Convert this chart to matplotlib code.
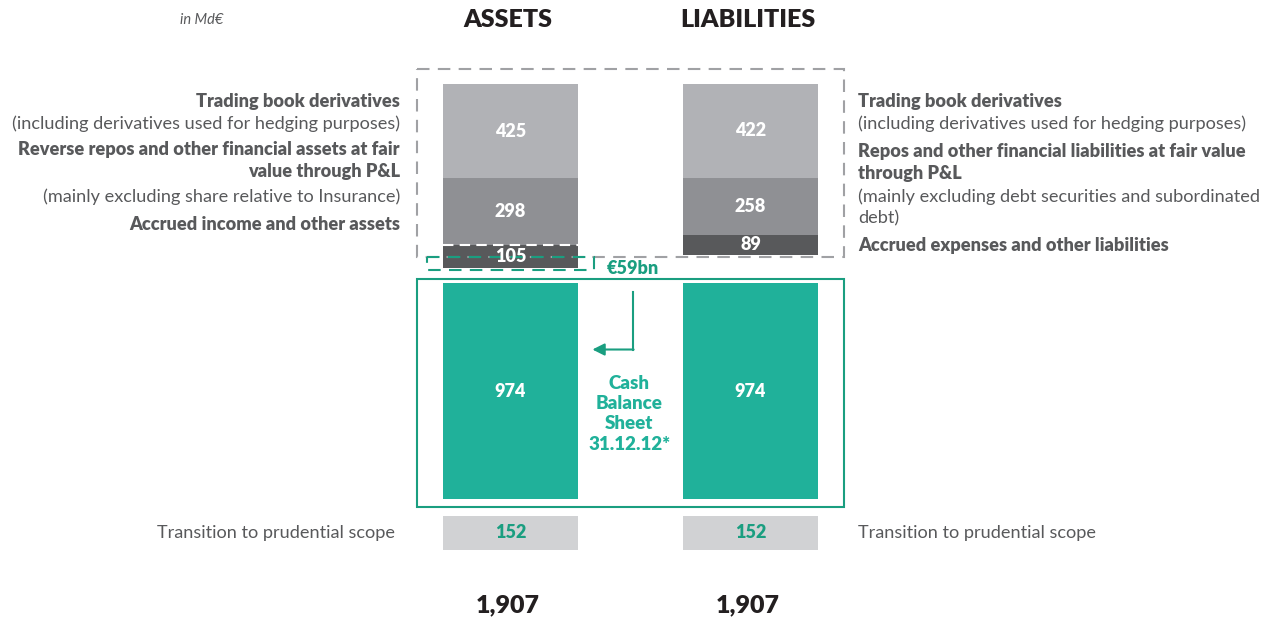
import matplotlib
matplotlib.use('Agg')
import matplotlib.pyplot as plt
from matplotlib.patches import Rectangle

# values in Md€
categories = ['ASSETS', 'LIABILITIES']
derivatives = [425, 422]
repos = [298, 258]
accrued = [105, 89]
cash = [974, 974]
prudential = [152, 152]
totals = [1907, 1907]

left_labels = [
    ('Trading book derivatives', 'bold'),
    ('(including derivatives used for hedging purposes)', 'normal'),
    ('Reverse repos and other financial assets at fair', 'bold'),
    ('value through P&L', 'bold'),
    ('(mainly excluding share relative to Insurance)', 'normal'),
    ('Accrued income and other assets', 'bold'),
]
right_labels = [
    ('Trading book derivatives', 'bold'),
    ('(including derivatives used for hedging purposes)', 'normal'),
    ('Repos and other financial liabilities at fair value', 'bold'),
    ('through P&L', 'bold'),
    ('(mainly excluding debt securities and subordinated', 'normal'),
    ('debt)', 'normal'),
    ('Accrued expenses and other liabilities', 'bold'),
]

LIGHT = '#b1b2b6'
MID = '#8f9094'
DARK = '#58595b'
TEAL = '#20b19a'
GREEN = '#1a9e80'
PALE = '#d1d2d4'
TXT = '#58595b'
FONT = 'Lato'

W, H = 1274, 620
fig = plt.figure(figsize=(W / 100, H / 100), dpi=100)
ax = fig.add_axes([0, 0, 1, 1])
ax.set_xlim(-510.5 / 240, (W - 510.5) / 240)
ax.set_ylim((H - 84) / 0.222, -84 / 0.222)
ax.axis('off')


def px(x, y):
    return x / W, 1 - y / H


x = [0, 1]
bw = 135 / 240
top_sum = [a + b + c for a, b, c in zip(derivatives, repos, accrued)]
diff = top_sum[0] - top_sum[1]
cash_start = max(top_sum) + 68
prud_start = cash_start + max(cash) + 76

# stacked non-cash part
b1 = ax.bar(x, derivatives, bw, bottom=0, color=LIGHT)
b2 = ax.bar(x, repos, bw, bottom=derivatives, color=MID)
bot3 = [a + b for a, b in zip(derivatives, repos)]
b3 = ax.bar(x, accrued, bw, bottom=bot3, color=DARK)
b4 = ax.bar(x, cash, bw, bottom=cash_start, color=TEAL)
b5 = ax.bar(x, prudential, bw, bottom=prud_start, color=PALE)

for bars, vals in [(b1, derivatives), (b2, repos), (b3, accrued), (b4, cash)]:
    for r, v in zip(bars, vals):
        ax.text(r.get_x() + bw / 2, r.get_y() + r.get_height() / 2, str(v),
                ha='center', va='center', color='white', fontsize=13,
                fontweight='heavy', family=FONT)
for r, v in zip(b5, prudential):
    ax.text(r.get_x() + bw / 2, r.get_y() + r.get_height() / 2, str(v),
            ha='center', va='center', color=GREEN, fontsize=13,
            fontweight='heavy', family=FONT)

# white dashed separator over assets accrued segment
ax.plot([-bw / 2, bw / 2], [bot3[0], bot3[0]], color='white', lw=1.5,
        ls=(0, (5, 3)))

# grey dashed box around non-cash items
padx = 26 / 240
ax.add_patch(Rectangle((-bw / 2 - padx, -68), 1 + bw + 2 * padx, top_sum[1] + 10 + 68,
                       fill=False, ec='#a0a1a4', lw=1.5, ls=(0, (6, 4))))
# green dashed box for the €59bn difference
gx = 16 / 240
ax.add_patch(Rectangle((-bw / 2 - gx, top_sum[1] + 10), bw + 2 * gx, diff,
                       fill=False, ec=GREEN, lw=1.5, ls=(0, (6, 4))))
# green solid box around cash balance sheet
ax.add_patch(Rectangle((-bw / 2 - padx, cash_start - 18), 1 + bw + 2 * padx,
                       max(cash) + 18 + 36, fill=False, ec=GREEN, lw=1.5))

ax.text(0.5 - 0.10, top_sum[0] + 2, '\u20ac%dbn' % diff, ha='left', va='center',
        color=GREEN, fontsize=13, fontweight='heavy', family=FONT)

# arrow
ax.plot([0.51, 0.51], [cash_start + 40, cash_start + 300], color=GREEN, lw=1.5)
ax.annotate('', xy=(bw / 2 + 0.06, cash_start + 300),
            xytext=(0.51 + 0.003, cash_start + 300),
            arrowprops=dict(arrowstyle='-|>', color=GREEN, lw=1.5,
                            mutation_scale=18, shrinkA=0, shrinkB=0))
ax.text(0.5 - 0.005, cash_start + 590, 'Cash\nBalance\nSheet\n31.12.12*',
        ha='center', va='center', color=TEAL, fontsize=13.5, fontweight='heavy',
        family=FONT, linespacing=1.22)

# headings and totals
for xi, c, t in zip(x, categories, totals):
    ax.text(xi - 0.01, -290, c, ha='center', va='center', fontsize=18,
            fontweight='heavy', family=FONT, color='#231f20')
    ax.text(xi - 0.01, prud_start + max(prudential) + 250, '{:,}'.format(t),
            ha='center', va='center', fontsize=18, fontweight='heavy',
            family=FONT, color='#231f20')

fig.text(*px(202, 20), 'in Md\u20ac', ha='center', va='center', fontsize=10.5,
         style='italic', color=TXT, family=FONT)

ly = [102, 124, 150, 171, 197, 225]
for (s, w), yy in zip(left_labels, ly):
    fig.text(*px(400, yy), s, ha='right', va='center', fontsize=13.1,
             fontweight='heavy' if w == 'bold' else 'normal', color=TXT, family=FONT)
ry = [102, 124, 152, 174, 197, 218, 246]
for (s, w), yy in zip(right_labels, ry):
    fig.text(*px(858, yy), s, ha='left', va='center', fontsize=13.1,
             fontweight='heavy' if w == 'bold' else 'normal', color=TXT, family=FONT)

fig.text(*px(395, 533), 'Transition to prudential scope', ha='right',
         va='center', fontsize=13.1, color=TXT, family=FONT)
fig.text(*px(858, 533), 'Transition to prudential scope', ha='left',
         va='center', fontsize=13.1, color=TXT, family=FONT)

fig.savefig('out.png', dpi=100)
